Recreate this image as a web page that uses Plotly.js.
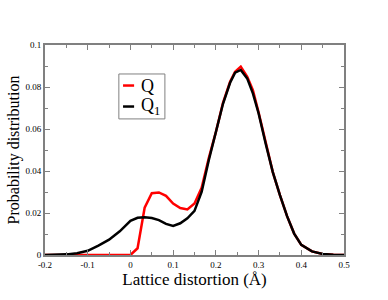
<!DOCTYPE html>
<html>
<head>
<meta charset="utf-8">
<script src="https://cdn.plot.ly/plotly-3.0.1.min.js"></script>
<style>html,body{margin:0;padding:0;background:#fff;}#chart{width:388px;height:300px;}</style>
</head>
<body>
<div id="chart"></div>
<script>
const distortion = [-0.2, -0.175, -0.15, -0.125, -0.1, -0.075, -0.05, -0.025, 0, 0.0167, 0.0333, 0.05, 0.0667, 0.0833, 0.1, 0.1167, 0.1333, 0.15, 0.1667, 0.1833, 0.2, 0.2167, 0.2333, 0.245, 0.2583, 0.2733, 0.2867, 0.3, 0.3167, 0.3333, 0.35, 0.3667, 0.3833, 0.4, 0.425, 0.45, 0.475, 0.5];
const probQ  = [0, 0, 0, 0, 0, 0, 0, 0, 0, 0.0032, 0.0225, 0.0294, 0.0298, 0.0282, 0.0245, 0.0224, 0.0217, 0.0245, 0.032, 0.046, 0.0585, 0.0725, 0.0825, 0.0873, 0.0897, 0.085, 0.0785, 0.068, 0.053, 0.0395, 0.0285, 0.0185, 0.0102, 0.0048, 0.0017, 0.0005, 0.0001, 0];
const probQ1 = [0, 0.0001, 0.0003, 0.0008, 0.002, 0.0045, 0.0073, 0.0113, 0.0163, 0.0177, 0.018, 0.0176, 0.0166, 0.0148, 0.0138, 0.0151, 0.0175, 0.021, 0.030, 0.045, 0.058, 0.072, 0.082, 0.0868, 0.0881, 0.0841, 0.077, 0.0675, 0.053, 0.0395, 0.0285, 0.0185, 0.0102, 0.0048, 0.0017, 0.0005, 0.0001, 0];
const seriesNames = ['Q', 'Q<sub>1</sub>'];
const seriesColors = ['#ff0000', '#000000'];
const xTickVals = [-0.2, -0.1, 0, 0.1, 0.2, 0.3, 0.4, 0.5];
const xTickText = ["-0.2", "-0.1", "0", "0.1", "0.2", "0.3", "0.4", "0.5"];
const yTickVals = [0, 0.02, 0.04, 0.06, 0.08, 0.1];
const yTickText = ["0", "0.02", "0.04", "0.06", "0.08", "0.1"];

const serif = "Liberation Serif, Times New Roman, serif";
const axisCommon = {
  showline: true, linecolor: '#808080', linewidth: 2, mirror: 'ticks',
  ticks: 'inside', ticklen: 5, tickwidth: 1, tickcolor: '#808080',
  showgrid: false, zeroline: false,
  tickfont: {family: serif, size: 9, color: '#000'}
};
const traces = [
  {x: distortion, y: probQ, mode: 'lines', name: seriesNames[0], line: {color: seriesColors[0], width: 2.5}},
  {x: distortion, y: probQ1, mode: 'lines', name: seriesNames[1], line: {color: seriesColors[1], width: 2.5}}
];

// hand-built legend box (short sample lines like the reference)
const legBox = {x0: 0.247, x1: 0.401, y0: 0.648, y1: 0.862};
const rowY = [0.807, 0.707];
const shapes = [
  {type: 'rect', xref: 'paper', yref: 'paper', x0: legBox.x0, x1: legBox.x1, y0: legBox.y0, y1: legBox.y1,
   line: {color: '#808080', width: 1}, fillcolor: '#fff', layer: 'above'}
];
const annotations = [];
seriesNames.forEach((nm, i) => {
  shapes.push({type: 'line', xref: 'paper', yref: 'paper', x0: 0.261, x1: 0.298, y0: rowY[i], y1: rowY[i],
    line: {color: seriesColors[i], width: 2.5}, layer: 'above'});
  annotations.push({xref: 'paper', yref: 'paper', x: 0.318, y: rowY[i], xanchor: 'left', yanchor: 'middle',
    text: nm, showarrow: false, borderpad: 0, font: {family: serif, size: 18, color: '#000'}});
});

const layout = {
  width: 388, height: 300,
  margin: {l: 45, r: 44, t: 45, b: 45},
  paper_bgcolor: '#fff', plot_bgcolor: '#fff',
  showlegend: false,
  shapes: shapes, annotations: annotations,
  xaxis: Object.assign({}, axisCommon, {
    range: [-0.2, 0.5], tickvals: xTickVals, ticktext: xTickText,
    minor: {dtick: 0.05, ticklen: 3, tickcolor: '#808080', ticks: 'inside'},
    title: {text: 'Lattice distortion (Å)', font: {family: serif, size: 17, color: '#000'}, standoff: 4}
  }),
  yaxis: Object.assign({}, axisCommon, {
    range: [0, 0.1], tickvals: yTickVals, ticktext: yTickText,
    minor: {dtick: 0.01, ticklen: 3, tickcolor: '#808080', ticks: 'inside'},
    title: {text: 'Probability distribution', font: {family: serif, size: 16, color: '#000'}, standoff: 2}
  })
};
Plotly.newPlot('chart', traces, layout, {displayModeBar: false, staticPlot: true});
</script>
</body>
</html>
